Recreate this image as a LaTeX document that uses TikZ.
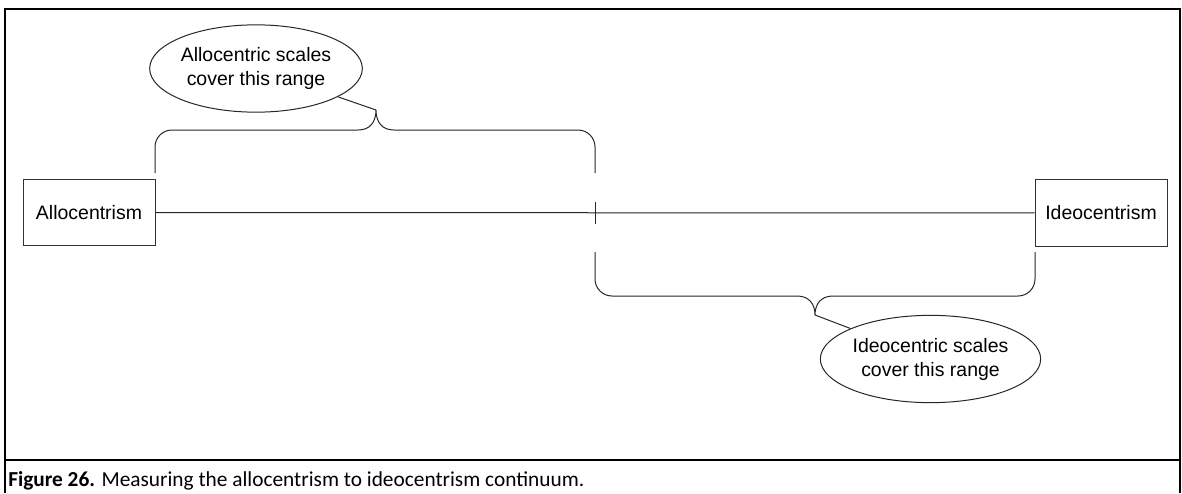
\documentclass[tikz,border=0pt]{standalone}
\usepackage{fontspec}
\setmainfont{Liberation Sans}
\newfontfamily\capfont{Carlito}
\usetikzlibrary{shapes.geometric}
\begin{document}
\begin{tikzpicture}[x=0.75pt,y=-0.75pt,
  frame/.style={line width=1.5pt, draw=black},
  wire/.style={line width=0.75pt, draw=black!85},
  pole/.style={draw=black!80, line width=0.75pt, minimum width=99pt,
    minimum height=50pt, inner sep=0pt, font=\fontsize{14.6}{17.5}\selectfont},
  bubble/.style={ellipse, draw=black!85, line width=0.75pt, minimum width=148.5pt,
    minimum height=65.5pt, inner sep=0pt, align=center,
    font=\fontsize{14.6}{18}\selectfont},
]
\useasboundingbox (0,0) rectangle (1182,493);

% outer frame and caption divider
\draw[frame] (5,493) -- (5,9) -- (1180,9) -- (1180,493);
\draw[frame] (5,460) -- (1180,460);

% the two poles of the continuum
\node[pole] (allo) at (89,212.5) {Allocentrism};
\node[pole] (ideo) at (1101,213) {Ideocentrism};
\draw[wire] (allo) -- (ideo);

% midpoint tick
\coordinate (midT) at (595,202);
\coordinate (midB) at (595,224);
\draw[wire] (midT) -- (midB);

% upper brace
\coordinate (tipA) at (376,110);
\draw[wire] (155,173) -- (155,147) .. controls (155,137.6) and (162.6,130) .. (172,130)
  -- (358,130) .. controls (370,130) and (376,122) .. (tipA)
  .. controls (376,122) and (382,130) .. (394,130)
  -- (578,130) .. controls (587.4,130) and (595,137.6) .. (595,147) -- (595,173);

% lower brace
\coordinate (tipB) at (815,315);
\draw[wire] (595,252) -- (595,279) .. controls (595,288.4) and (602.6,296) .. (612,296)
  -- (797,296) .. controls (809,296) and (815,304) .. (tipB)
  .. controls (815,304) and (821,296) .. (833,296)
  -- (1018,296) .. controls (1027.4,296) and (1035,288.4) .. (1035,279) -- (1035,252);

% callouts
\node[bubble] (allos) at (256,68.5) {Allocentric scales\\cover this range};
\node[bubble] (ideos) at (930.5,359) {Ideocentric scales\\cover this range};
\draw[wire] (allos) -- (tipA);
\draw[wire] (ideos) -- (tipB);

% caption
\node[anchor=base west, inner sep=0pt, font=\capfont\fontsize{16}{19}\selectfont]
  (cap) at (8,486) {\textbf{Figure 26.} Measuring the allocentrism to ideocentrism continuum.};
\end{tikzpicture}
\end{document}
